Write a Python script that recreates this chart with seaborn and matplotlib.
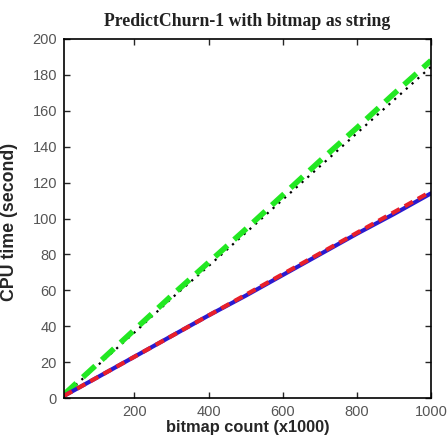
import numpy as np
import pandas as pd
import seaborn as sns
import matplotlib.pyplot as plt

# bitmap count (x1000)
counts = [10, 100, 200, 300, 400, 500, 600, 700, 800, 900, 1000]

# CPU time (second)
blue_solid = [1.2, 11.5, 23, 34.5, 46, 57, 68.5, 80, 91.5, 102.5, 114]
red_dashed = [1.2, 11.5, 23, 34.5, 46, 57.5, 69, 80.5, 92, 103.5, 115]
green_dashed = [2, 19, 38, 57, 75.5, 94, 113, 132, 150.5, 169.5, 188]
black_dotted = [1.5, 18, 36.5, 55.5, 73.5, 92, 110.5, 129, 147.5, 166, 184.5]

xticks = [200, 400, 600, 800, 1000]
yticks = [0, 20, 40, 60, 80, 100, 120, 140, 160, 180, 200]

sns.set_style("ticks")
plt.rcParams['font.family'] = ['Liberation Sans', 'DejaVu Sans']

fig = plt.figure(figsize=(4.47, 4.42), dpi=100)
ax = fig.add_axes([0.1432, 0.0995, 0.8210, 0.8123])

df = pd.DataFrame({'x': counts, 'blue': blue_solid, 'red': red_dashed,
                   'green': green_dashed, 'black': black_dotted})

sns.lineplot(data=df, x='x', y='black', ax=ax, color='black', linewidth=1.6,
             linestyle=(0, (1, 2.5)))
sns.lineplot(data=df, x='x', y='green', ax=ax, color='#22e822', linewidth=4,
             linestyle=(0, (3, 1.6)))
sns.lineplot(data=df, x='x', y='blue', ax=ax, color='#2a1ad0', linewidth=3)
sns.lineplot(data=df, x='x', y='red', ax=ax, color='#e8202a', linewidth=3,
             linestyle=(0, (2.2, 1.4)))

ax.set_xlim(10, 1000)
ax.set_ylim(0, 200)
ax.set_xticks(xticks)
ax.set_yticks(yticks)
ax.tick_params(direction='in', top=True, right=True, length=4, width=1,
               labelsize=10.5, labelcolor='#555555', pad=5)
for s in ax.spines.values():
    s.set_visible(True)
    s.set_linewidth(1.2)
    s.set_color('black')

ax.set_xlabel('bitmap count (x1000)', fontsize=11.8, fontweight='bold', labelpad=1)
ax.set_ylabel('CPU time (second)', fontsize=12.8, fontweight='bold')
ax.yaxis.set_label_coords(-0.125, 0.49)
ax.set_title('PredictChurn-1 with bitmap as string', fontsize=12.8,
             fontweight='bold', family=['Liberation Serif', 'DejaVu Serif'],
             color='#222222', pad=9)

fig.savefig('out.png', dpi=100)
